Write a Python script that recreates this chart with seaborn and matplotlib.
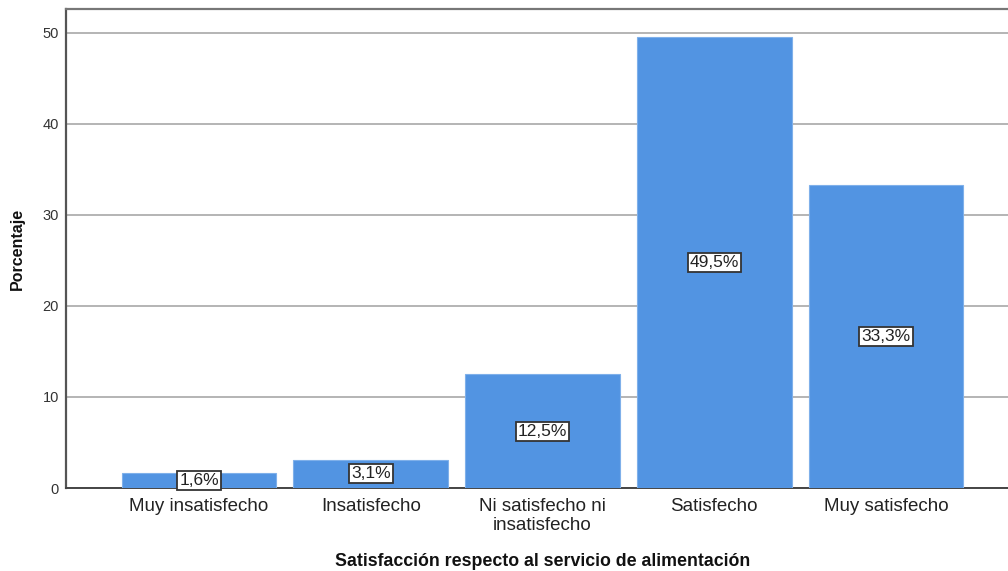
import matplotlib
matplotlib.use("Agg")
import matplotlib.pyplot as plt
import seaborn as sns
import pandas as pd

categorias = ["Muy insatisfecho", "Insatisfecho", "Ni satisfecho ni\ninsatisfecho",
              "Satisfecho", "Muy satisfecho"]
porcentajes = [1.6, 3.1, 12.5, 49.5, 33.3]
etiquetas = ["1,6%", "3,1%", "12,5%", "49,5%", "33,3%"]
ticks_y = [0, 10, 20, 30, 40, 50]

sns.set_theme(style="white")
plt.rcParams["font.family"] = ["Liberation Sans", "DejaVu Sans"]

df = pd.DataFrame({"cat": categorias, "pct": porcentajes})

fig = plt.figure(figsize=(10.08, 5.71), dpi=100)
ax = fig.add_axes([66 / 1008, 1 - 488 / 571, (1019 - 66) / 1008, (488 - 9) / 571])

sns.barplot(data=df, x="cat", y="pct", color="#5294e2", saturation=1,
            width=0.9, edgecolor="#7fb0ea", linewidth=0.8, ax=ax, zorder=3)

ax.set_xlim(-0.774, 4.774)
ax.set_ylim(0, 52.6)
ax.set_yticks(ticks_y)
ax.yaxis.grid(True, color="#a8a8a8", linewidth=1.2, zorder=0)
ax.set_axisbelow(True)

for i, (v, t) in enumerate(zip(porcentajes, etiquetas)):
    ax.text(i, v / 2, t, ha="center", va="center", fontsize=12.5, color="#222222",
            zorder=5,
            bbox=dict(boxstyle="square,pad=0.12", facecolor="white",
                      edgecolor="#333333", linewidth=1.3))

for lbl in ax.get_xticklabels():
    lbl.set_linespacing(1.2)
ax.tick_params(axis="x", labelsize=13.5, colors="#222222", length=0, pad=7)
ax.tick_params(axis="y", labelsize=10.5, colors="#333333", length=0, pad=5)

ax.set_xlabel("Satisfacción respecto al servicio de alimentación",
              fontsize=12.8, fontweight="bold", color="#111111")
ax.xaxis.set_label_coords(0.5, -0.135)
ax.set_ylabel("Porcentaje", fontsize=11.5, fontweight="bold", color="#111111")
ax.yaxis.set_label_coords(-0.043, 0.5)

for side in ["left", "top", "bottom"]:
    ax.spines[side].set_visible(True)
ax.spines["right"].set_visible(False)
ax.spines["left"].set_color("#555555")
ax.spines["left"].set_linewidth(1.6)
ax.spines["top"].set_color("#777777")
ax.spines["top"].set_linewidth(1.6)
ax.spines["bottom"].set_color("#444444")
ax.spines["bottom"].set_linewidth(1.4)

fig.savefig("out.png", dpi=100)
